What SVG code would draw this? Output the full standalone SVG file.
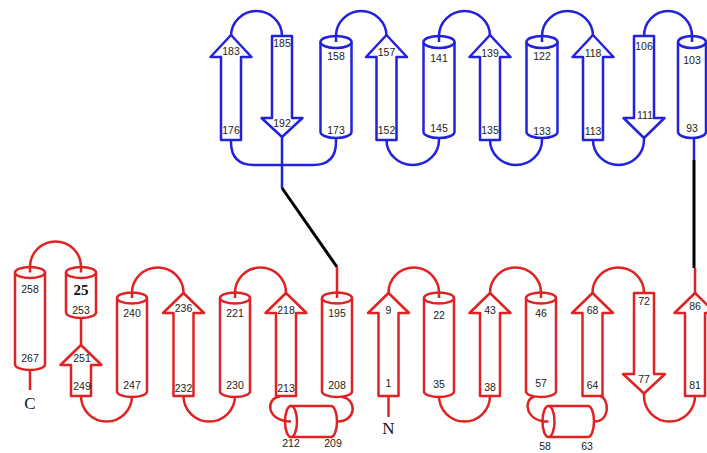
<svg xmlns="http://www.w3.org/2000/svg" width="707" height="453" viewBox="0 0 707 453">
<style>
.b{fill:#fff;stroke:#2222dd;stroke-width:2.5;stroke-linejoin:round}
.r{fill:#fff;stroke:#e02222;stroke-width:2.5;stroke-linejoin:round}
.cb{fill:none;stroke:#2222dd;stroke-width:2.5}
.cr{fill:none;stroke:#e02222;stroke-width:2.5}
.ck{fill:none;stroke:#000;stroke-width:3}
text{font-family:"Liberation Sans",Arial,sans-serif;font-size:10.5px;fill:#222;text-anchor:middle}
.big{font-family:"Liberation Serif","Times New Roman",serif;font-size:17px;fill:#111}
.bold{font-family:"Liberation Serif","Times New Roman",serif;font-size:15px;font-weight:bold;fill:#111}
</style>
<rect width="707" height="453" fill="#fff"/>
<!-- blue domain -->
<g id="s176"><path class="b" d="M231,35 L251.5,57 H241 V140 H221 V57 H210.5 Z"/><text x="231" y="55">183</text><text x="231" y="134">176</text></g>
<g id="s185"><path class="b" d="M272,36 H292 V118 H302.5 L282,137 L261.5,118 H272 Z"/><text x="282" y="47">185</text><text x="282" y="127">192</text></g>
<g id="h158"><path class="b" d="M320.5,42 V132 A15.5,6 0 0 0 351.5,132 V42"/><ellipse class="b" cx="336" cy="42" rx="15.5" ry="6"/><text x="336" y="60">158</text><text x="336" y="134">173</text></g>
<g id="s152"><path class="b" d="M386.5,35 L407,57 H396.5 V140 H376.5 V57 H366 Z"/><text x="386.5" y="56">157</text><text x="386.5" y="134">152</text></g>
<g id="h141"><path class="b" d="M423.5,42 V132 A15.5,6 0 0 0 454.5,132 V42"/><ellipse class="b" cx="439" cy="42" rx="15.5" ry="6"/><text x="439" y="62">141</text><text x="439" y="132">145</text></g>
<g id="s135"><path class="b" d="M490,35 L510.5,57 H500 V140 H480 V57 H469.5 Z"/><text x="490" y="57">139</text><text x="490" y="134">135</text></g>
<g id="h122"><path class="b" d="M526.5,42 V132 A15.5,6 0 0 0 557.5,132 V42"/><ellipse class="b" cx="542" cy="42" rx="15.5" ry="6"/><text x="542" y="60">122</text><text x="542" y="135">133</text></g>
<g id="s113"><path class="b" d="M593,35 L613.5,57 H603 V140 H583 V57 H572.5 Z"/><text x="593" y="57">118</text><text x="593" y="135">113</text></g>
<g id="s106"><path class="b" d="M634,36 H654 V118 H664.5 L644,138 L623.5,118 H634 Z"/><text x="644" y="50">106</text><text x="645" y="119">111</text></g>
<g id="h93"><path class="b" d="M678,42 V132 A14,6 0 0 0 706,132 V42"/><ellipse class="b" cx="692" cy="42" rx="14" ry="6"/><text x="692" y="64">103</text><text x="692" y="132">93</text></g>
<!-- red domain -->
<g id="h258"><path class="r" d="M15,272.5 V364.5 A15,5.5 0 0 0 45,364.5 V272.5"/><ellipse class="r" cx="30" cy="272.5" rx="15" ry="5.5"/><text x="30" y="293">258</text><text x="30" y="362">267</text></g>
<g id="h253"><path class="r" d="M66,272.5 V312.5 A15,5.5 0 0 0 96,312.5 V272.5"/><ellipse class="r" cx="81" cy="272.5" rx="15" ry="5.5"/><text class="bold" x="81" y="295">25</text><text x="81" y="314">253</text></g>
<g id="s249"><path class="r" d="M81,345 L101.5,365 H91 V396 H71 V365 H60.5 Z"/><text x="82" y="362">251</text><text x="82" y="390">249</text></g>
<g id="h240"><path class="r" d="M117,298 V391.5 A15,5.5 0 0 0 147,391.5 V298"/><ellipse class="r" cx="132" cy="298" rx="15" ry="5.5"/><text x="132" y="317">240</text><text x="132" y="389">247</text></g>
<g id="s232"><path class="r" d="M183.5,293 L204,313 H193.5 V396 H173.5 V313 H163 Z"/><text x="183.5" y="312">236</text><text x="183.5" y="392">232</text></g>
<g id="h221"><path class="r" d="M220,298 V391.5 A15,5.5 0 0 0 250,391.5 V298"/><ellipse class="r" cx="235" cy="298" rx="15" ry="5.5"/><text x="235" y="317">221</text><text x="235" y="389">230</text></g>
<g id="s213"><path class="r" d="M286,293 L306.5,313 H296 V396 H276 V313 H265.5 Z"/><text x="286" y="314">218</text><text x="286" y="392">213</text></g>
<g id="h209"><path class="r" d="M291,406 H331 A6,15.5 0 0 1 331,437 H291 Z"/><ellipse class="r" cx="291" cy="421.5" rx="6" ry="15.5"/><text x="291" y="447">212</text><text x="333" y="447">209</text></g>
<g id="h195"><path class="r" d="M322,298 V391.5 A15,5.5 0 0 0 352,391.5 V298"/><ellipse class="r" cx="337" cy="298" rx="15" ry="5.5"/><text x="337" y="317">195</text><text x="337" y="389">208</text></g>
<g id="s1"><path class="r" d="M388.5,293 L409,313 H398.5 V396 H378.5 V313 H368 Z"/><text x="388.5" y="314">9</text><text x="388.5" y="387">1</text></g>
<g id="h22"><path class="r" d="M424,298 V391.5 A15,5.5 0 0 0 454,391.5 V298"/><ellipse class="r" cx="439" cy="298" rx="15" ry="5.5"/><text x="439" y="319">22</text><text x="439" y="388">35</text></g>
<g id="s38"><path class="r" d="M490,293 L510.5,313 H500 V396 H480 V313 H469.5 Z"/><text x="490" y="314">43</text><text x="490" y="391">38</text></g>
<g id="h46"><path class="r" d="M526,298 V391.5 A15,5.5 0 0 0 556,391.5 V298"/><ellipse class="r" cx="541" cy="298" rx="15" ry="5.5"/><text x="541" y="317">46</text><text x="541" y="387">57</text></g>
<g id="h58"><path class="r" d="M548.5,406 H588 A6,15.5 0 0 1 588,437 H548.5 Z"/><ellipse class="r" cx="548.5" cy="421.5" rx="6" ry="15.5"/><text x="545" y="450">58</text><text x="587" y="450">63</text></g>
<g id="s64"><path class="r" d="M592.5,293 L613,313 H602.5 V396 H582.5 V313 H572 Z"/><text x="592.5" y="314">68</text><text x="592.5" y="389">64</text></g>
<g id="s72"><path class="r" d="M634,293 H654 V374 H665 L644,393.5 L623,374 H634 Z"/><text x="644" y="305">72</text><text x="644" y="383">77</text></g>
<g id="s81"><path class="r" d="M695,293 L715.5,313 H705 V396 H685 V313 H674.5 Z"/><text x="695" y="310">86</text><text x="695" y="389">81</text></g>
<g id="termini"><text class="big" x="388.5" y="434">N</text><text class="big" x="30" y="409">C</text></g>
<!-- connectors -->
<g id="connectors">
<path class="cb" d="M231,36 A25.5,25 0 0 1 282,36"/>
<path class="cb" d="M336,42 V36 A25.25,25 0 0 1 386.5,36"/>
<path class="cb" d="M439,42 V36 A25.5,25 0 0 1 490,36"/>
<path class="cb" d="M542,42 V36 A25.5,25 0 0 1 593,36"/>
<path class="cb" d="M644,36 A24,25 0 0 1 692,36 V42"/>
<path class="cb" d="M231,140 V142 Q231,165 254,165 H313 Q336,165 336,142 V138"/>
<path class="cb" d="M386.5,140 A26.25,25 0 0 0 439,140 V138"/>
<path class="cb" d="M490,140 A26,25 0 0 0 542,140 V138"/>
<path class="cb" d="M593,140 A25.5,25 0 0 0 644,140 V138"/>
<path class="cb" d="M282,137 V188"/>
<path class="cb" d="M694,138 V160"/>
<path class="ck" d="M282,188 L337,267"/>
<path class="ck" d="M694,160 V268"/>
<path class="cr" d="M30,272.5 V267 A25.5,25.5 0 0 1 81,267 V272.5"/>
<path class="cr" d="M81,318 V345"/>
<path class="cr" d="M30,370 V390"/>
<path class="cr" d="M132,298 V293 A25.75,25.5 0 0 1 183.5,293"/>
<path class="cr" d="M235,298 V293 A25.5,25.5 0 0 1 286,293"/>
<path class="cr" d="M337,298 V267"/>
<path class="cr" d="M388.5,293 A25.25,25.5 0 0 1 439,293 V298"/>
<path class="cr" d="M490,293 A25.5,25.5 0 0 1 541,293 V298"/>
<path class="cr" d="M592.5,293 A25.75,25.5 0 0 1 644,293"/>
<path class="cr" d="M695,293 V268"/>
<path class="cr" d="M81,396 A25.5,25.5 0 0 0 132,396 V397"/>
<path class="cr" d="M183.5,396 A25.75,25.5 0 0 0 235,396 V397"/>
<path class="cr" d="M439,397 V396 A25.5,25.5 0 0 0 490,396"/>
<path class="cr" d="M644,393.5 V396 A25.5,25.5 0 0 0 695,396"/>
<path class="cr" d="M388.5,396 V417"/>
<path class="cr" d="M280,396.5 C265,398 266,421.5 291,421.5"/>
<path class="cr" d="M342,397 C357,399 357,421.5 337,421.5"/>
<path class="cr" d="M534,396.5 C523,400 525,421.5 548.5,421.5"/>
<path class="cr" d="M594,421.5 C611,421.5 609,398 600,396"/>
</g>
</svg>
